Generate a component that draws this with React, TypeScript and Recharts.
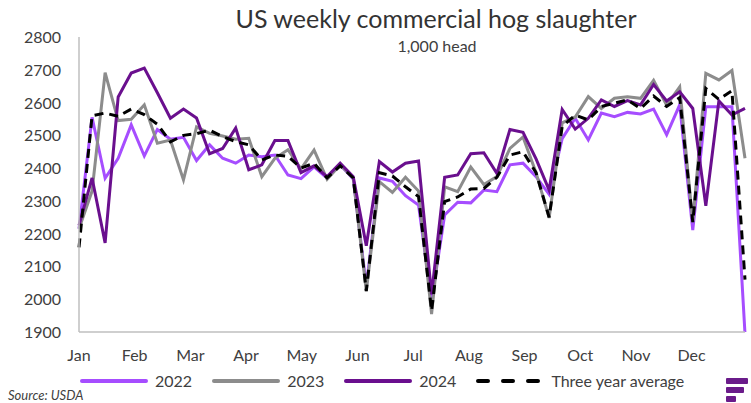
import React from 'react';
import { LineChart, Line, XAxis, YAxis } from 'recharts';

// Weekly US commercial hog slaughter, 1,000 head (week index 0..51)
const MONTHS = ['Jan', 'Feb', 'Mar', 'Apr', 'May', 'Jun', 'Jul', 'Aug', 'Sep', 'Oct', 'Nov', 'Dec'];
const Y_TICKS = [1900, 2000, 2100, 2200, 2300, 2400, 2500, 2600, 2700, 2800];
const WEEKS_PER_MONTH = 4.265;

const S2022 = [
  2215, 2555, 2369, 2430, 2532, 2437, 2518, 2488, 2494, 2423, 2471, 2430, 2415,
  2440, 2435, 2440, 2379, 2368, 2404, 2369, 2410, 2367, 2040, 2370, 2360, 2316,
  2287, 1995, 2257, 2296, 2294, 2333, 2328, 2410, 2415, 2374, 2320, 2490, 2552,
  2486, 2568, 2557, 2570, 2565, 2580, 2502, 2593, 2211, 2587, 2587, 2587, 1895,
];
const S2023 = [
  2215, 2330, 2691, 2545, 2549, 2593, 2476, 2486, 2364, 2526, 2506, 2498, 2488,
  2491, 2374, 2430, 2456, 2398, 2455, 2366, 2410, 2370, 2025, 2359, 2326, 2372,
  2330, 1955, 2343, 2328, 2403, 2350, 2374, 2460, 2495, 2386, 2248, 2538, 2556,
  2618, 2582, 2613, 2618, 2613, 2668, 2592, 2648, 2235, 2689, 2669, 2698, 2430,
];
const S2024 = [
  2225, 2370, 2172, 2617, 2690, 2705, 2630, 2552, 2580, 2553, 2444, 2460, 2522,
  2395, 2410, 2484, 2484, 2386, 2407, 2374, 2415, 2374, 2163, 2420, 2388, 2415,
  2422, 2015, 2372, 2379, 2444, 2447, 2384, 2518, 2509, 2428, 2333, 2579, 2519,
  2552, 2608, 2588, 2606, 2593, 2655, 2605, 2633, 2582, 2285, 2605, 2562, 2582,
];
const AVG = [
  2158, 2560, 2568, 2558, 2580, 2563, 2534, 2480, 2500, 2505, 2516, 2496, 2481,
  2471, 2425, 2440, 2436, 2400, 2415, 2370, 2407, 2370, 2025, 2386, 2376, 2343,
  2313, 1965, 2298, 2312, 2336, 2338, 2372, 2440, 2450, 2386, 2250, 2527, 2562,
  2547, 2588, 2598, 2608, 2582, 2620, 2588, 2615, 2235, 2643, 2610, 2636, 2060,
];

const C2022 = '#a64dff';
const C2023 = '#8c8c8c';
const C2024 = '#6a0f8e';
const CAVG = '#000000';
const FONT = 'Lato, "Open Sans", sans-serif';
const TEXT = '#404040';

const rows = S2022.map((v, i) => ({
  week: i,
  y2022: v,
  y2023: S2023[i],
  y2024: S2024[i],
  avg: AVG[i],
}));

const XTick = ({ x, y, payload }: any) => (
  <text x={x} y={y + 21} textAnchor="middle" fill={TEXT} fontSize={16} fontFamily={FONT}>
    {MONTHS[Math.round(payload.value / WEEKS_PER_MONTH)]}
  </text>
);

const YTick = ({ y, payload }: any) => (
  <text x={61} y={y + 6} textAnchor="end" fill={TEXT} fontSize={16} fontFamily={FONT}>
    {payload.value}
  </text>
);

const legendItems = [
  { label: '2022', color: C2022, dashed: false },
  { label: '2023', color: C2023, dashed: false },
  { label: '2024', color: C2024, dashed: false },
  { label: 'Three year average', color: CAVG, dashed: true },
];

export default function App() {
  return (
    <div style={{ position: 'absolute', left: 0, top: 0, width: 751, height: 403, background: '#fff', fontFamily: FONT }}>
      <div style={{ position: 'absolute', left: 0, width: 872, top: 3, textAlign: 'center', fontSize: 25, color: '#333' }}>
        US weekly commercial hog slaughter
      </div>
      <div style={{ position: 'absolute', left: 0, width: 874, top: 36, textAlign: 'center', fontSize: 16, color: TEXT }}>
        1,000 head
      </div>

      <LineChart width={751} height={403} data={rows} margin={{ top: 37, right: 6, bottom: 41, left: 0 }}>
        <XAxis
          type="number"
          dataKey="week"
          domain={[0, 51]}
          ticks={MONTHS.map((_, i) => i * WEEKS_PER_MONTH)}
          tick={<XTick />}
          tickLine={false}
          axisLine={{ stroke: '#bfbfbf', strokeWidth: 1.5 }}
          interval={0}
          height={30}
        />
        <YAxis
          width={79}
          domain={[1900, 2800]}
          ticks={Y_TICKS}
          allowDataOverflow
          tick={<YTick />}
          tickLine={false}
          axisLine={{ stroke: '#bfbfbf', strokeWidth: 1.5 }}
          interval={0}
        />
        <Line dataKey="y2022" stroke={C2022} strokeWidth={3} dot={false} isAnimationActive={false} />
        <Line dataKey="y2023" stroke={C2023} strokeWidth={3} dot={false} isAnimationActive={false} />
        <Line dataKey="y2024" stroke={C2024} strokeWidth={3} dot={false} isAnimationActive={false} />
        <Line dataKey="avg" stroke={CAVG} strokeWidth={3} strokeDasharray="9 6" dot={false} isAnimationActive={false} />
      </LineChart>

      {/* legend */}
      <div style={{ position: 'absolute', left: 80, top: 371, display: 'flex', alignItems: 'center', fontSize: 16, color: TEXT }}>
        {legendItems.map((item) => (
          <div key={item.label} style={{ display: 'flex', alignItems: 'center', marginRight: 20 }}>
            <svg width={68} height={8} style={{ marginRight: 7 }}>
              <line
                x1={2}
                y1={4}
                x2={66}
                y2={4}
                stroke={item.color}
                strokeWidth={4}
                strokeLinecap="round"
                strokeDasharray={item.dashed ? '10 15' : undefined}
              />
            </svg>
            <span>{item.label}</span>
          </div>
        ))}
      </div>

      <div style={{ position: 'absolute', left: 8, top: 387, fontSize: 13, fontStyle: 'italic', color: TEXT }}>
        Source: USDA
      </div>

      {/* logo bars */}
      <div style={{ position: 'absolute', left: 726, top: 378 }}>
        <div style={{ width: 22, height: 6, background: '#6a1b8a', borderRadius: 1, marginBottom: 3 }} />
        <div style={{ width: 18, height: 6, background: '#6a1b8a', borderRadius: 1, marginBottom: 3 }} />
        <div style={{ width: 10, height: 6, background: '#6a1b8a', borderRadius: 1 }} />
      </div>
    </div>
  );
}
